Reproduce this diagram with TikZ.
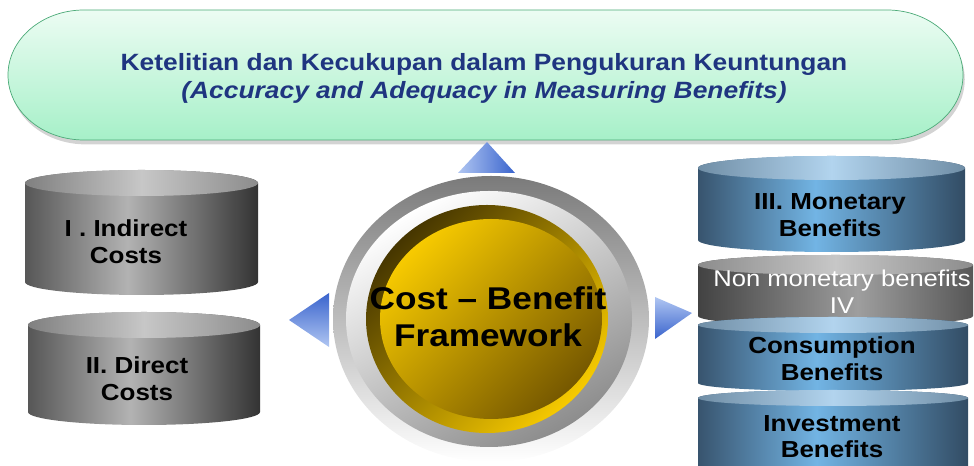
\documentclass[tikz,border=0pt]{standalone}
\usepackage{fontspec}
\setmainfont{Liberation Sans}[FakeStretch=1.12]
\usetikzlibrary{shadows}

\definecolor{titleblue}{RGB}{31,53,128}
\definecolor{mintline}{RGB}{76,170,120}
\definecolor{mintlight}{RGB}{236,252,243}
\definecolor{mintdark}{RGB}{166,240,200}
\definecolor{arrowlight}{RGB}{176,198,242}
\definecolor{arrowdark}{RGB}{58,100,205}
\definecolor{goldlight}{RGB}{247,202,0}
\definecolor{golddark}{RGB}{118,88,0}
\definecolor{goldshadow}{RGB}{70,54,0}
\definecolor{steeldark}{RGB}{56,84,110}
\definecolor{steellight}{RGB}{114,180,228}
\definecolor{steelright}{RGB}{50,76,100}
\definecolor{steellid}{RGB}{178,212,238}
\definecolor{steellidedge}{RGB}{112,142,166}

% drum bodies and lids, shaded left to right
\pgfdeclarehorizontalshading{costdrum}{100bp}{color(0bp)=(black!66); color(25bp)=(black!66); color(47bp)=(black!30); color(75bp)=(black!80); color(100bp)=(black!80)}
\pgfdeclarehorizontalshading{costtop}{100bp}{color(0bp)=(black!50); color(25bp)=(black!50); color(50bp)=(black!22); color(75bp)=(black!45); color(100bp)=(black!45)}
\pgfdeclarehorizontalshading{benefitdrum}{100bp}{color(0bp)=(steeldark); color(25bp)=(steeldark); color(47bp)=(steellight); color(75bp)=(steelright); color(100bp)=(steelright)}
\pgfdeclarehorizontalshading{benefittop}{100bp}{color(0bp)=(steellidedge); color(25bp)=(steellidedge); color(50bp)=(steellid); color(75bp)=(steellidedge); color(100bp)=(steellidedge)}
\pgfdeclarehorizontalshading{plaindrum}{100bp}{color(0bp)=(black!74); color(25bp)=(black!74); color(54bp)=(black!38); color(75bp)=(black!66); color(100bp)=(black!66)}
\pgfdeclarehorizontalshading{plaintop}{100bp}{color(0bp)=(black!45); color(25bp)=(black!45); color(50bp)=(black!22); color(75bp)=(black!45); color(100bp)=(black!45)}

\tikzset{
  drumtext/.style={font=\fontsize{13.2}{15.3}\selectfont\bfseries, align=center, text=black}
}

\begin{document}
\begin{tikzpicture}[x=0.02cm, y=0.02cm]
    \useasboundingbox (0,0) rectangle (974,466);

    % Title banner
    \path[draw=mintline, top color=mintlight, bottom color=mintdark,
          drop shadow={shadow xshift=1pt, shadow yshift=-2.5pt, opacity=0.35}]
        (84,456) -- (887,456) arc[start angle=90, end angle=-90, x radius=76, y radius=65]
        -- (84,326) arc[start angle=270, end angle=90, x radius=76, y radius=65] -- cycle;
    \node[font=\fontsize{13.4}{15.8}\selectfont\bfseries, text=titleblue, align=center] (title) at (484,387.5)
        {Ketelitian dan Kecukupan dalam Pengukuran Keuntungan\\\textit{(Accuracy and Adequacy in Measuring Benefits)}};

    % Pointers
    \shade[left color=arrowlight, right color=arrowdark] (458,293) -- (487,324) -- (515,293) -- cycle;
    \shade[top color=arrowdark, bottom color=arrowlight] (329,173) -- (289,146) -- (329,119) -- cycle;
    \shade[top color=arrowlight, bottom color=arrowdark] (655,169) -- (692,153) -- (655,127) -- cycle;

    % Centre button
    \shade[top color=black!52, bottom color=white] (491,147) ellipse[x radius=158, y radius=143];
    \shade[top color=white, bottom color=black!45, shading angle=30] (489,147) ellipse[x radius=143, y radius=128];
    \shade[top color=goldshadow, bottom color=goldlight, shading angle=45] (487,147) ellipse[x radius=121, y radius=114];
    \shade[top color=goldlight, bottom color=golddark, shading angle=45] (491,147) ellipse[x radius=111, y radius=100];
    \node[font=\fontsize{17.9}{21}\selectfont\bfseries, align=center] (framework) at (488,148.8)
        {Cost -- Benefit\\Framework};

    % Cost drums
    \shade[shading=costdrum] (25,283) -- (25,184) arc[start angle=180, end angle=360, x radius=116.5, y radius=13]
        -- (258,283) arc[start angle=0, end angle=180, x radius=116.5, y radius=13] -- cycle;
    \shade[shading=costtop] (141.5,283) ellipse[x radius=116.5, y radius=13];
    \node[drumtext] (indirect) at (126,223.9) {I . Indirect\\Costs};

    \shade[shading=costdrum] (28,141) -- (28,54) arc[start angle=180, end angle=360, x radius=116, y radius=13]
        -- (260,141) arc[start angle=0, end angle=180, x radius=116, y radius=13] -- cycle;
    \shade[shading=costtop] (144,141) ellipse[x radius=116, y radius=13];
    \node[drumtext] (direct) at (137,87.4) {II. Direct\\Costs};

    % Benefit stack
    \shade[shading=benefitdrum] (698,298) -- (698,226) arc[start angle=180, end angle=360, x radius=133.5, y radius=12]
        -- (965,298) arc[start angle=0, end angle=180, x radius=133.5, y radius=12] -- cycle;
    \shade[shading=benefittop] (831.5,298) ellipse[x radius=133.5, y radius=12];
    \node[drumtext] (monetary) at (830,251) {III. Monetary\\Benefits};

    \shade[shading=plaindrum] (698,201) -- (698,150) arc[start angle=180, end angle=360, x radius=137.5, y radius=10]
        -- (973,201) arc[start angle=0, end angle=180, x radius=137.5, y radius=10] -- cycle;
    \shade[shading=plaintop] (835.5,201) ellipse[x radius=137.5, y radius=10];

    \shade[shading=benefitdrum] (698,141) -- (698,83) arc[start angle=180, end angle=360, x radius=135, y radius=8]
        -- (968,141) arc[start angle=0, end angle=180, x radius=135, y radius=8] -- cycle;
    \shade[shading=benefittop] (833,141) ellipse[x radius=135, y radius=8];
    \node[drumtext] (consumption) at (832,107.4) {Consumption\\Benefits};

    \shade[shading=benefitdrum] (698,68) -- (698,-20) arc[start angle=180, end angle=360, x radius=135, y radius=8]
        -- (968,68) arc[start angle=0, end angle=180, x radius=135, y radius=8] -- cycle;
    \shade[shading=benefittop] (833,68) ellipse[x radius=135, y radius=8];
    \node[drumtext] (investment) at (832,29.4) {Investment\\Benefits};

    % label on the grey drum sits over the lid below it
    \node[font=\fontsize{13}{15.9}\selectfont, align=center, text=white] (nonmonetary) at (842,174.3)
        {Non monetary benefits\\IV};

\end{tikzpicture}
\end{document}
